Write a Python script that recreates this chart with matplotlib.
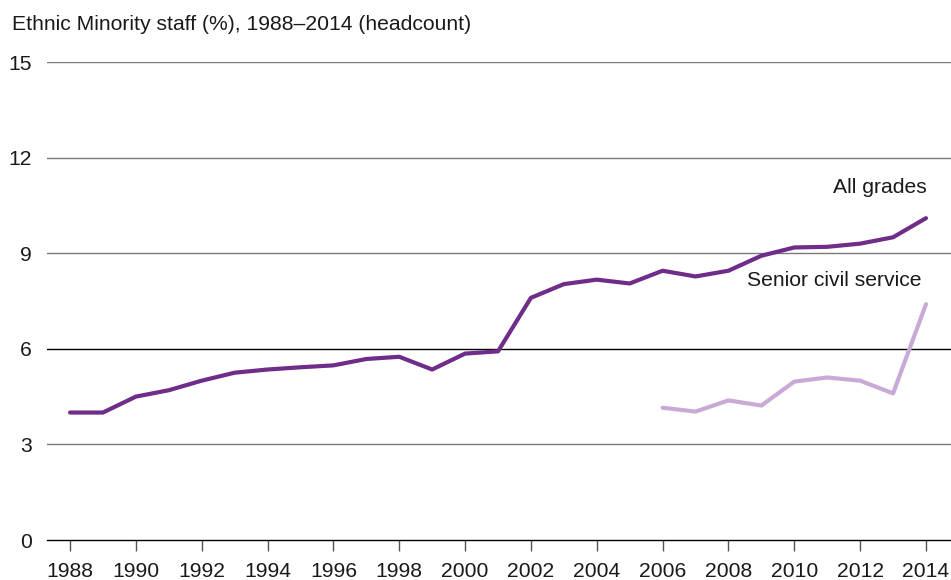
import matplotlib
matplotlib.use("Agg")
import matplotlib.pyplot as plt

years_all = list(range(1988, 2015))
all_grades = [4.0, 4.0, 4.5, 4.7, 5.0, 5.25, 5.35, 5.42, 5.48, 5.68, 5.75, 5.35,
              5.85, 5.92, 7.6, 8.03, 8.17, 8.05, 8.45, 8.27, 8.45, 8.92, 9.18,
              9.2, 9.3, 9.5, 10.1]
years_scs = list(range(2006, 2015))
senior = [4.15, 4.03, 4.38, 4.22, 4.97, 5.1, 5.0, 4.6, 7.4]

yticks = [0, 3, 6, 9, 12, 15]
xticks = list(range(1988, 2015, 2))

plt.rcParams['font.family'] = ['Liberation Sans', 'DejaVu Sans']
FS = 15.2

fig = plt.figure(figsize=(9.51, 5.80), dpi=100)
ax = fig.add_axes([47/951, 40/580, 904/951, 478/580])

for yv in yticks[1:]:
    col = '#000000' if yv == 6 else '#7a7a7a'
    ax.axhline(yv, color=col, lw=1.0, zorder=1)

ax.plot(years_all, all_grades, color='#6f2c88', lw=3, zorder=3,
        solid_capstyle='round', solid_joinstyle='round')
ax.plot(years_scs, senior, color='#c9a9d5', lw=3, zorder=3,
        solid_capstyle='round', solid_joinstyle='round')

ax.set_xlim(1987.30, 2014.76)
ax.set_ylim(0, 15)
ax.set_yticks(yticks)
ax.set_xticks(xticks)
ax.set_xticklabels([str(x) for x in xticks])

for s in ['top', 'right', 'left']:
    ax.spines[s].set_visible(False)
ax.spines['bottom'].set_color('#000000')
ax.spines['bottom'].set_linewidth(1.0)

ax.tick_params(axis='y', length=0, pad=11, labelsize=FS, colors='#1a1a1a')
ax.tick_params(axis='x', length=8, width=1, color='#555555', pad=8,
               labelsize=FS, labelcolor='#1a1a1a')

ax.text(2014.03, 10.75, 'All grades', ha='right', va='bottom', fontsize=FS, color='#1a1a1a')
ax.text(2013.85, 7.85, 'Senior civil service', ha='right', va='bottom', fontsize=FS, color='#1a1a1a')

fig.text(12/951, 1 - 25/580, 'Ethnic Minority staff (%), 1988\u20132014 (headcount)',
         ha='left', va='center', fontsize=FS, color='#1a1a1a')

fig.savefig('out.png', dpi=100)
